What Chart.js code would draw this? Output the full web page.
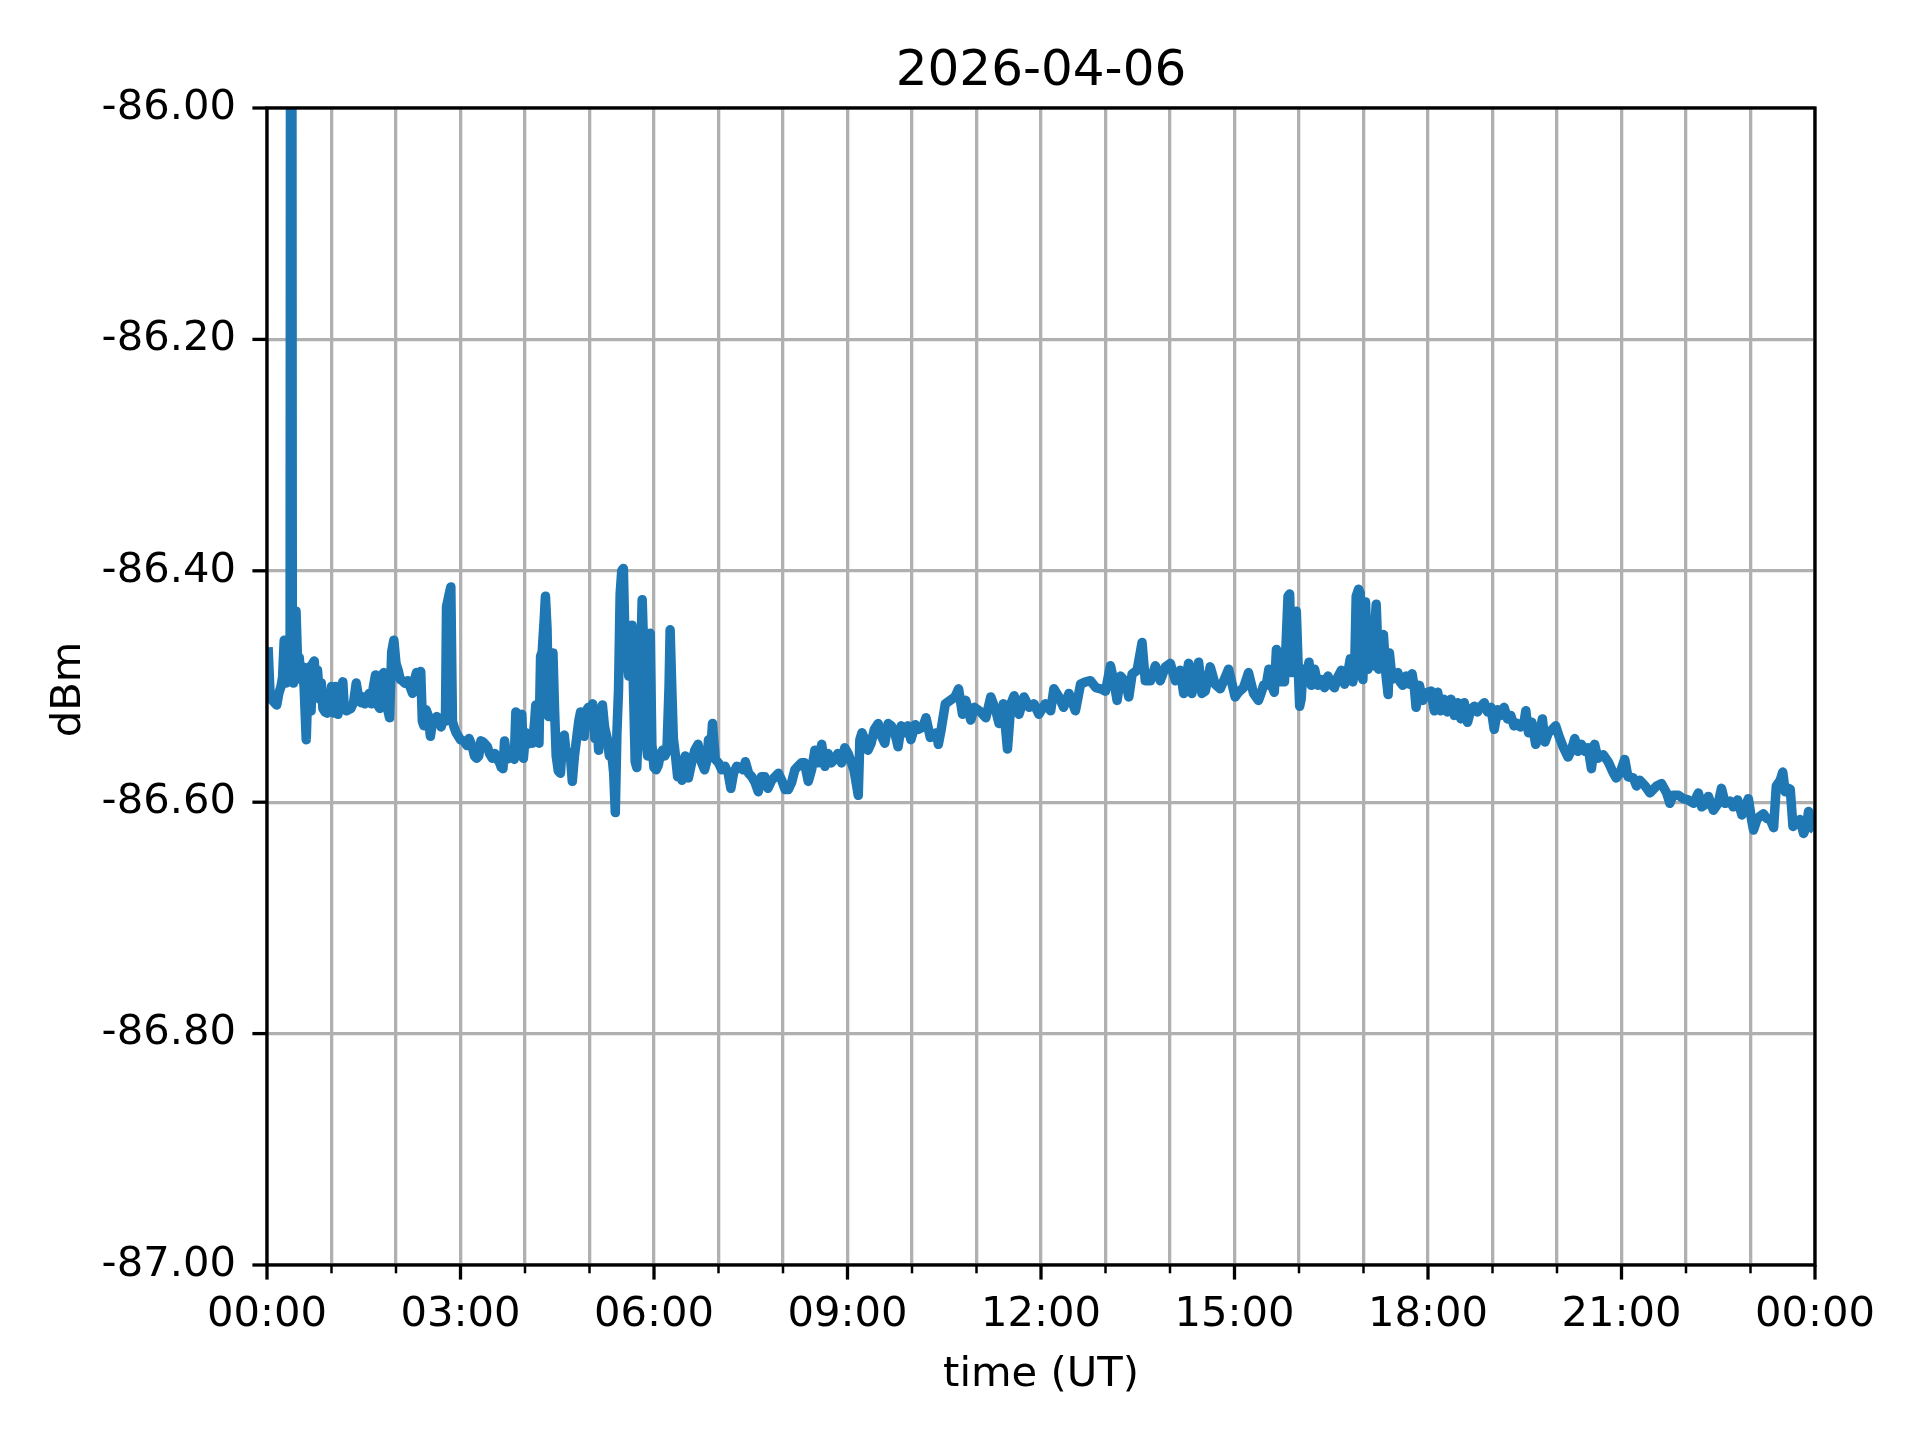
<!DOCTYPE html>
<html>
<head>
<meta charset="utf-8">
<script src="https://cdn.jsdelivr.net/npm/chart.js@4.4.0/dist/chart.umd.min.js"></script>
<style>
  html, body { margin: 0; padding: 0; background: #fff; }
  #wrap { width: 1920px; height: 1440px; }
</style>
</head>
<body>
<div id="wrap"><canvas id="myChart" width="1920" height="1440"></canvas></div>
<script>
// minutes after 00:00 UT
const timeMin = [
  1, 3, 5, 7, 9, 11, 13, 14.5, 16, 17.5,
  19, 20.5, 21.5, 22.5, 23.5, 24.5, 26, 27, 28.5, 30,
  31.5, 33, 34.5, 36.5, 38, 39.5, 41, 42.5, 44, 45.5,
  47, 49, 50.5, 52, 54, 56, 58, 60, 62, 64,
  66, 68, 70.5, 72, 74, 76, 78, 80.5, 83, 85.5,
  87.5, 89, 91, 93, 95, 97, 99, 101, 103, 105,
  107, 108.5, 110, 112, 114, 116, 118, 120, 122, 124,
  126, 128, 131, 133, 135.5, 137, 139, 141, 143, 144.5,
  146, 148, 150, 152, 154, 156, 158, 160, 162, 164,
  166, 167, 169.5, 171, 172.5, 174, 176, 178, 180, 183,
  186, 188, 191, 193, 195, 197, 199, 201, 203, 205,
  207, 209.5, 212, 214, 216, 218, 219.5, 221, 223, 225,
  228, 230, 231.5, 234, 237, 238.5, 240.5, 242.5, 245, 247,
  249, 250, 251.5, 253, 254.5, 256, 258, 259, 260.5, 262,
  264, 266, 267.5, 269, 271, 273, 275, 276.5, 278, 280,
  282, 284, 286, 288, 290, 291.7, 293.5, 295, 297, 299,
  301, 303, 305, 306.5, 308.5, 310, 312, 314, 316.5, 318.5,
  320.5, 322.5, 324, 325.5, 327, 328.5, 330, 331.5, 333, 334.5,
  336.5, 338.5, 339.5, 341, 342.5, 344, 345.8, 347.5, 349, 350.5,
  352, 354, 356.5, 358, 360, 362, 364, 366, 368, 370,
  372, 374, 375, 376.5, 378, 380, 382, 384,
  386, 389, 392, 395, 398, 401, 404, 407, 409.5, 410.7,
  412.5, 414.4, 417, 420, 423, 426, 429, 431.5, 434, 437,
  440, 443, 445, 448, 451, 454, 457, 460, 463, 466,
  469.5, 472.6, 475.7, 478.8, 482, 485, 488, 491, 494, 497,
  500, 503.5, 506.6, 509.7, 512.8, 516, 519, 522, 525, 528,
  531, 534.5, 537.5, 540.6, 543.7, 546, 550, 551.5, 553.5, 556,
  559, 562, 565, 568.5, 571.6, 574.7, 577.8, 580.8, 584, 587,
  590, 593, 596, 599, 603,
  606, 610, 613, 617, 620, 623, 624.5, 627, 631, 635.5,
  640, 643.3, 647, 650, 654.7, 658, 662.7, 668.7, 673.3, 678,
  681, 685, 688.8, 692, 695, 699.6, 704.2, 709, 713.5, 718,
  724, 729, 732, 736.7, 741, 746, 752, 756.8, 761.5, 766,
  771, 775.5, 780, 784.6, 787.7, 790.8, 794, 798.5, 801.7, 804.8,
  809.4, 814, 817, 821.8, 826.4, 831, 835.7, 840.3, 845, 849.6,
  852.7, 857.3, 860.4, 863.5, 866.6, 869.7, 872.8, 877.4, 882, 886.7,
  891.4, 894.5, 900.6, 903.7, 908.4, 913, 917.7, 922.3,
  925, 927, 929.5, 932, 934.5, 937, 939, 940.5, 943.5, 946.5,
  949.8, 951.3, 952.9, 954.4, 957.5, 959, 960.6, 962, 963.7, 966.8,
  969.3, 971.4, 974.5, 977.6, 980.7, 983.8, 986.9, 990, 993, 996,
  999.3, 1002.4, 1005.5, 1007.7, 1010, 1011.7, 1013.2, 1015.4, 1016.9, 1019.4,
  1021.9, 1024, 1026.4, 1028.7, 1031.8, 1034, 1036.4, 1038.5, 1041, 1042.9,
  1044.1, 1046.6, 1048.8, 1051.9, 1054, 1056.5, 1059.6, 1062.7, 1065.2, 1067.4,
  1068.9, 1072, 1075, 1079.7, 1082.8, 1085.9, 1089, 1092, 1095, 1098,
  1101.4, 1104.5, 1107.5, 1110.6, 1113.7, 1116.8, 1119.9, 1123, 1126, 1129.2,
  1132.3, 1135.4, 1138.5, 1141.6, 1144.7, 1147.7, 1150.8, 1154, 1157, 1160,
  1163, 1166, 1169.5, 1171, 1173.5, 1176.6, 1180.2, 1183.3, 1186.4, 1188.8,
  1191.9, 1195.7, 1198.8, 1201.9,
  1205.6, 1210.3, 1213.4, 1216.5, 1219.6, 1222.7, 1225.8, 1229, 1232, 1235,
  1238, 1243, 1247.6, 1252, 1255, 1258.5, 1263, 1266, 1271, 1274,
  1277, 1282, 1286.4, 1292.6, 1297.3, 1302, 1305, 1308, 1313, 1317.5,
  1322, 1327, 1331.5, 1334.6, 1337.7, 1340.8, 1345.5, 1350, 1353, 1356.4,
  1361, 1364, 1368, 1372, 1375, 1378, 1381, 1382.8, 1386, 1389,
  1392, 1395, 1398.4, 1401.5, 1404, 1407.7, 1410, 1412.3, 1415.5, 1417,
  1419.5, 1423, 1426, 1429.4, 1432, 1434, 1437, 1439.4
];

const dbm = [
  -86.466, -86.510, -86.512, -86.514, -86.516, -86.506, -86.500, -86.492, -86.460, -86.497,
  -86.480, -86.496, -86.460, -85.000, -86.440, -86.497, -86.480, -86.435, -86.480, -86.475,
  -86.494, -86.483, -86.500, -86.546, -86.500, -86.483, -86.521, -86.480, -86.478, -86.509,
  -86.486, -86.511, -86.497, -86.519, -86.522, -86.523, -86.521, -86.500, -86.523, -86.500,
  -86.524, -86.514, -86.496, -86.520, -86.521, -86.520, -86.519, -86.514, -86.497, -86.511,
  -86.514, -86.509, -86.515, -86.510, -86.506, -86.515, -86.500, -86.490, -86.516, -86.519,
  -86.490, -86.488, -86.500, -86.519, -86.527, -86.470, -86.460, -86.480, -86.486, -86.494,
  -86.495, -86.497, -86.495, -86.500, -86.506, -86.495, -86.488, -86.490, -86.487, -86.530,
  -86.534, -86.520, -86.525, -86.543, -86.530, -86.531, -86.526, -86.528, -86.535, -86.527,
  -86.530, -86.431, -86.420, -86.414, -86.530, -86.535, -86.540, -86.543, -86.546, -86.547,
  -86.551, -86.545, -86.552, -86.560, -86.562, -86.560, -86.547, -86.548, -86.550, -86.552,
  -86.558, -86.562, -86.558, -86.563, -86.565, -86.570, -86.571, -86.547, -86.563, -86.562,
  -86.561, -86.563, -86.522, -86.525, -86.524, -86.562, -86.540, -86.550, -86.545, -86.549,
  -86.530, -86.516, -86.530, -86.549, -86.474, -86.470, -86.440, -86.422, -86.450, -86.526,
  -86.500, -86.471, -86.520, -86.560, -86.573, -86.575, -86.545, -86.542, -86.556, -86.560,
  -86.557, -86.582, -86.560, -86.545, -86.530, -86.522, -86.530, -86.543, -86.521, -86.518,
  -86.520, -86.515, -86.545, -86.520, -86.555, -86.530, -86.516, -86.535, -86.545, -86.560,
  -86.556, -86.575, -86.609, -86.540, -86.503, -86.420, -86.400, -86.398, -86.460, -86.470,
  -86.491, -86.460, -86.447, -86.505, -86.565, -86.570, -86.520, -86.480, -86.425, -86.470,
  -86.540, -86.560, -86.454, -86.550, -86.570, -86.572, -86.568, -86.558, -86.555, -86.560,
  -86.556, -86.500, -86.451, -86.500, -86.545, -86.560, -86.578, -86.565,
  -86.581, -86.560, -86.579, -86.566, -86.555, -86.550, -86.565, -86.572, -86.563, -86.546,
  -86.560, -86.532, -86.563, -86.566, -86.572, -86.569, -86.575, -86.588, -86.575, -86.569,
  -86.570, -86.572, -86.565, -86.575, -86.578, -86.583, -86.591, -86.578, -86.578, -86.588,
  -86.581, -86.578, -86.575, -86.581, -86.589, -86.589, -86.583, -86.572, -86.569, -86.566,
  -86.566, -86.582, -86.572, -86.555, -86.566, -86.550, -86.569, -86.558, -86.566, -86.563,
  -86.558, -86.566, -86.553, -86.558, -86.566, -86.572, -86.594, -86.546, -86.540, -86.546,
  -86.555, -86.549, -86.537, -86.532, -86.543, -86.549, -86.532, -86.534, -86.540, -86.552,
  -86.534, -86.540, -86.534, -86.546, -86.533,
  -86.537, -86.535, -86.527, -86.544, -86.541, -86.540, -86.550, -86.538, -86.515, -86.512,
  -86.509, -86.502, -86.524, -86.512, -86.529, -86.518, -86.521, -86.527, -86.509, -86.521,
  -86.532, -86.515, -86.554, -86.515, -86.508, -86.524, -86.509, -86.518, -86.515, -86.524,
  -86.515, -86.521, -86.502, -86.509, -86.518, -86.506, -86.521, -86.498, -86.496, -86.495,
  -86.501, -86.502, -86.504, -86.482, -86.495, -86.512, -86.491, -86.496, -86.509, -86.489,
  -86.486, -86.462, -86.495, -86.495, -86.482, -86.495, -86.483, -86.480, -86.495, -86.486,
  -86.506, -86.480, -86.506, -86.491, -86.479, -86.506, -86.504, -86.483, -86.498, -86.502,
  -86.492, -86.485, -86.509, -86.505, -86.501, -86.488, -86.506, -86.512,
  -86.505, -86.499, -86.499, -86.485, -86.499, -86.505, -86.468, -86.488, -86.496, -86.496,
  -86.422, -86.420, -86.488, -86.476, -86.435, -86.476, -86.517, -86.511, -86.485, -86.491,
  -86.479, -86.499, -86.485, -86.499, -86.494, -86.501, -86.491, -86.498, -86.501, -86.492,
  -86.486, -86.498, -86.488, -86.476, -86.496, -86.488, -86.422, -86.416, -86.419, -86.494,
  -86.427, -86.485, -86.448, -86.482, -86.429, -86.485, -86.456, -86.455, -86.491, -86.507,
  -86.471, -86.494, -86.489, -86.488, -86.496, -86.499, -86.491, -86.498, -86.489, -86.502,
  -86.518, -86.499, -86.512, -86.505, -86.504, -86.521, -86.505, -86.521, -86.511, -86.522,
  -86.511, -86.525, -86.514, -86.528, -86.514, -86.531, -86.520, -86.517, -86.522, -86.517,
  -86.514, -86.522, -86.518, -86.537, -86.520, -86.525, -86.518, -86.528, -86.525, -86.534,
  -86.532, -86.535, -86.530, -86.521, -86.540, -86.531, -86.550, -86.543, -86.528, -86.548,
  -86.540, -86.537, -86.534, -86.543,
  -86.552, -86.561, -86.555, -86.545, -86.556, -86.550, -86.556, -86.553, -86.571, -86.550,
  -86.562, -86.559, -86.565, -86.574, -86.579, -86.575, -86.563, -86.578, -86.579, -86.586,
  -86.581, -86.586, -86.592, -86.586, -86.584, -86.592, -86.601, -86.594, -86.594, -86.597,
  -86.598, -86.601, -86.592, -86.604, -86.602, -86.595, -86.607, -86.601, -86.588, -86.601,
  -86.599, -86.604, -86.598, -86.611, -86.604, -86.597, -86.615, -86.624, -86.615, -86.612,
  -86.610, -86.614, -86.615, -86.622, -86.586, -86.581, -86.574, -86.591, -86.588, -86.589,
  -86.621, -86.617, -86.615, -86.627, -86.621, -86.608, -86.622, -86.624
];

const chartTitle = '2026-04-06';
const xTitle = 'time (UT)';
const yTitle = 'dBm';

const points = timeMin.map((t, i) => ({ x: t, y: dbm[i] }));

function hhmm(v) {
  const h = Math.floor(v / 60) % 24;
  return String(h).padStart(2, '0') + ':00';
}

// spines, outward tick marks and the titles, matplotlib style
const frame = {
  id: 'frame',
  afterDraw(chart) {
    const { ctx, chartArea: a, scales } = chart;
    const x = scales.x, y = scales.y;
    ctx.save();
    ctx.strokeStyle = '#000';
    ctx.lineCap = 'butt';

    ctx.lineWidth = 3.3;
    y.ticks.forEach(t => {
      const py = y.getPixelForValue(t.value);
      ctx.beginPath();
      ctx.moveTo(a.left - 14.6, py);
      ctx.lineTo(a.left, py);
      ctx.stroke();
    });
    x.ticks.forEach(t => {
      const px = x.getPixelForValue(t.value);
      const major = Math.round(t.value) % 180 === 0;
      ctx.lineWidth = major ? 3.3 : 2.5;
      ctx.beginPath();
      ctx.moveTo(px, a.bottom);
      ctx.lineTo(px, a.bottom + (major ? 14.6 : 8.3));
      ctx.stroke();
    });

    ctx.lineWidth = 3.3;
    ctx.strokeRect(a.left, a.top, a.right - a.left, a.bottom - a.top);

    ctx.fillStyle = '#000';
    ctx.textAlign = 'center';
    ctx.textBaseline = 'alphabetic';
    const cx = (a.left + a.right) / 2;
    ctx.font = '50px "DejaVu Sans"';
    ctx.fillText(chartTitle, cx, 85);
    ctx.font = '41.7px "DejaVu Sans"';
    ctx.fillText(xTitle, cx, 1386);
    ctx.translate(80, (a.top + a.bottom) / 2 + 3);
    ctx.rotate(-Math.PI / 2);
    ctx.fillText(yTitle, 0, 0);
    ctx.restore();
  }
};

Chart.defaults.font.family = '"DejaVu Sans"';
Chart.defaults.font.size = 41.7;
Chart.defaults.color = '#000';

new Chart(document.getElementById('myChart'), {
  type: 'line',
  data: {
    datasets: [{
      data: points,
      borderColor: '#1f77b4',
      borderWidth: 9.5,
      borderJoinStyle: 'round',
      borderCapStyle: 'butt',
      pointRadius: 0,
      tension: 0,
      fill: false,
      clip: 0
    }]
  },
  options: {
    responsive: false,
    animation: false,
    parsing: false,
    layout: { padding: { top: 108, right: 105, left: 0, bottom: 0 } },
    plugins: {
      legend: { display: false },
      tooltip: { enabled: false },
      title: { display: false }
    },
    scales: {
      x: {
        type: 'linear',
        min: 0,
        max: 1440,
        afterFit: (s) => { s.height = 175; },
        grid: { color: '#b0b0b0', lineWidth: 3.3, drawTicks: false },
        border: { display: false },
        ticks: {
          stepSize: 60,
          autoSkip: false,
          maxRotation: 0,
          padding: 25,
          callback: (v) => (Math.round(v) % 180 === 0 ? hhmm(v) : '')
        }
      },
      y: {
        min: -87,
        max: -86,
        afterFit: (s) => { s.width = 267; },
        grid: { color: '#b0b0b0', lineWidth: 3.3, drawTicks: false },
        border: { display: false },
        ticks: {
          stepSize: 0.2,
          padding: 31,
          callback: (v) => v.toFixed(2)
        }
      }
    }
  },
  plugins: [frame]
});
</script>
</body>
</html>
